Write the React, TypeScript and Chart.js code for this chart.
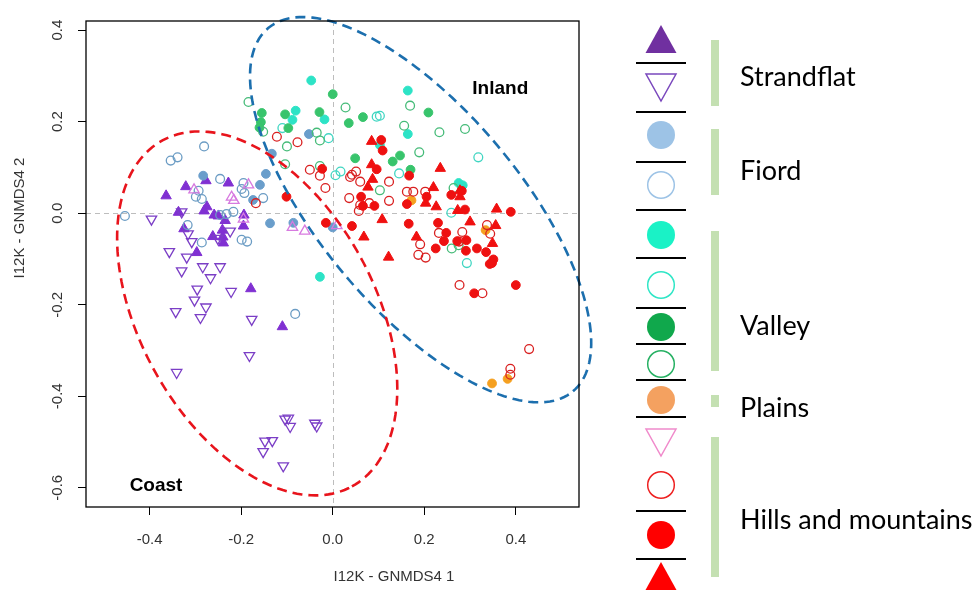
import React, { useEffect, useRef } from 'react';
import { Chart, registerables } from 'chart.js';

Chart.register(...registerables);

// ---------- axes ----------
const xTickValues = [-0.4, -0.2, 0.0, 0.2, 0.4];
const yTickValues = [-0.6, -0.4, -0.2, 0.0, 0.2, 0.4];
const xLimits = [-0.539, 0.538];
const yLimits = [-0.642, 0.42];
const xTitle = 'I12K - GNMDS4 1';
const yTitle = 'I12K - GNMDS4 2';

// ---------- data (x, y) ----------
const strandflatFilledTri = [
  [-0.277, 0.071], [-0.228, 0.066], [-0.321, 0.058], [-0.364, 0.038], [-0.275, 0.014],
  [-0.281, 0.005], [-0.259, -0.004], [-0.25, -0.006], [-0.337, 0.002], [-0.194, -0.004],
  [-0.235, -0.016], [-0.195, -0.028], [-0.325, -0.034], [-0.241, -0.037], [-0.262, -0.051],
  [-0.239, -0.065], [-0.297, -0.086], [-0.179, -0.165], [-0.11, -0.248], [-0.24, -0.052],
];
const strandflatOpenTri = [
  [-0.396, -0.013], [-0.33, 0.003], [-0.316, -0.045], [-0.308, -0.062], [-0.357, -0.084],
  [-0.319, -0.096], [-0.33, -0.126], [-0.284, -0.117], [-0.246, -0.117], [-0.267, -0.141],
  [-0.296, -0.166], [-0.222, -0.171], [-0.302, -0.19], [-0.277, -0.205], [-0.343, -0.215],
  [-0.289, -0.228], [-0.177, -0.232], [-0.182, -0.311], [-0.341, -0.348], [-0.224, -0.039],
  [-0.251, -0.055], [-0.104, -0.45], [-0.097, -0.448], [-0.093, -0.466], [-0.039, -0.459],
  [-0.035, -0.465], [-0.148, -0.498], [-0.132, -0.497], [-0.152, -0.521], [-0.108, -0.552],
];
const fiordFilled = [
  [-0.052, 0.173], [-0.133, 0.13], [-0.146, 0.086], [-0.159, 0.062], [-0.283, 0.082],
  [-0.174, 0.029], [-0.137, -0.022], [-0.086, -0.021], [0.0, -0.031],
];
const fiordOpen = [
  [-0.281, 0.146], [-0.354, 0.115], [-0.339, 0.122], [-0.293, 0.049], [-0.299, 0.036],
  [-0.286, 0.031], [-0.246, 0.075], [-0.195, 0.066], [-0.199, 0.053], [-0.193, 0.044],
  [-0.152, 0.033], [-0.217, 0.003], [-0.232, -0.002], [-0.246, -0.004], [-0.454, -0.006],
  [-0.317, -0.026], [-0.286, -0.064], [-0.199, -0.058], [-0.187, -0.062], [-0.082, -0.22],
];
const valleyCyanFilled = [
  [-0.047, 0.29], [-0.081, 0.224], [-0.088, 0.204], [-0.018, 0.205], [0.164, 0.268],
  [0.164, 0.173], [0.103, 0.149], [0.275, 0.066], [0.284, 0.061], [-0.028, -0.139],
];
const valleyCyanOpen = [
  [-0.11, 0.186], [-0.009, 0.164], [0.096, 0.211], [0.103, 0.213], [0.318, 0.122],
  [0.006, 0.083], [0.017, 0.091], [0.145, 0.087], [0.259, 0.001], [0.293, -0.109],
];
const valleyGreenFilled = [
  [0.0, 0.26], [-0.155, 0.219], [-0.104, 0.216], [-0.029, 0.221], [-0.157, 0.199],
  [-0.16, 0.187], [-0.097, 0.186], [0.035, 0.197], [0.066, 0.21], [0.209, 0.22],
  [0.049, 0.12], [0.131, 0.113], [0.147, 0.126], [0.17, 0.095],
];
const valleyGreenOpen = [
  [-0.184, 0.243], [-0.152, 0.178], [-0.035, 0.176], [-0.028, 0.159], [-0.1, 0.146],
  [-0.104, 0.107], [-0.028, 0.103], [0.028, 0.231], [0.169, 0.235], [0.156, 0.191],
  [0.233, 0.177], [0.289, 0.184], [0.189, 0.133], [0.103, 0.05], [0.264, 0.055],
  [0.26, -0.077], [0.275, -0.07],
];
const plainsFilled = [
  [0.172, 0.028], [0.334, -0.037], [0.348, -0.372], [0.382, -0.362],
];
const hillsPinkOpenTri = [
  [-0.303, 0.051], [-0.184, 0.062], [-0.221, 0.035], [-0.216, 0.028], [-0.195, -0.013],
  [-0.088, -0.031], [-0.061, -0.039], [0.009, -0.027],
];
const hillsRedOpen = [
  [-0.122, 0.167], [-0.077, 0.155], [-0.05, 0.095], [-0.028, 0.082], [-0.016, 0.055],
  [-0.168, 0.022], [0.051, 0.091], [0.038, 0.079], [0.042, 0.084], [0.06, 0.069],
  [0.123, 0.069], [0.162, 0.047], [0.176, 0.047], [0.202, 0.047], [0.036, 0.033],
  [0.08, 0.022], [0.06, 0.018], [0.057, 0.005], [0.123, 0.027], [0.232, -0.043],
  [0.283, -0.041], [0.276, -0.062], [0.337, -0.026], [0.344, -0.045], [0.191, -0.068],
  [0.187, -0.091], [0.203, -0.097], [0.277, -0.157], [0.327, -0.175], [0.429, -0.297],
  [0.388, -0.34], [0.388, -0.353],
];
const hillsRedFilled = [
  [-0.023, 0.097], [-0.101, 0.036], [-0.015, -0.021], [0.106, 0.16], [0.109, 0.137],
  [0.096, 0.096], [0.167, 0.082], [0.162, 0.02], [0.205, 0.036], [0.259, 0.04],
  [0.282, 0.049], [0.289, 0.008], [0.389, 0.003], [0.062, 0.036], [0.066, 0.016],
  [0.091, 0.016], [0.042, -0.028], [0.166, -0.023], [0.23, -0.021], [0.248, -0.043],
  [0.243, -0.061], [0.272, -0.061], [0.292, -0.059], [0.225, -0.077], [0.291, -0.082],
  [0.315, -0.077], [0.335, -0.085], [0.351, -0.101], [0.343, -0.111], [0.348, -0.109],
  [0.309, -0.175], [0.4, -0.157],
];
const hillsRedFilledTri = [
  [0.085, 0.157], [0.085, 0.106], [0.087, 0.074], [0.077, 0.057], [0.235, 0.098],
  [0.22, 0.056], [0.203, 0.022], [0.226, 0.014], [0.273, 0.006], [0.278, 0.049],
  [0.278, 0.036], [0.358, 0.009], [0.3, -0.019], [0.356, -0.027], [0.349, -0.066],
  [0.108, -0.014], [0.068, -0.052], [0.183, -0.052], [0.122, -0.096],
];

// ---------- ellipses (centre, semi-axes, rotation) ----------
const coastEllipse = { cx: -0.165, cy: -0.219, a: 0.431, b: 0.257, angleDeg: -61.3 };
const inlandEllipse = { cx: 0.192, cy: 0.0077, a: 0.518, b: 0.2186, angleDeg: -50 };

const annotations = [
  { text: 'Inland', x: 0.366, y: 0.272 },
  { text: 'Coast', x: -0.386, y: -0.596 },
];

// ---------- legend ----------
const legendSymbols = [
  { shape: 'up', filled: true, color: '#7030a0' },
  { shape: 'down', filled: false, color: '#7a48bd' },
  { shape: 'circle', filled: true, color: '#9dc3e6' },
  { shape: 'circle', filled: false, color: '#9dc3e6' },
  { shape: 'circle', filled: true, color: '#1af2c6' },
  { shape: 'circle', filled: false, color: '#2fe6c6' },
  { shape: 'circle', filled: true, color: '#10a84c' },
  { shape: 'circle', filled: false, color: '#25b062' },
  { shape: 'circle', filled: true, color: '#f4a160' },
  { shape: 'down', filled: false, color: '#f08acb' },
  { shape: 'circle', filled: false, color: '#ee2020' },
  { shape: 'circle', filled: true, color: '#ff0000' },
  { shape: 'up', filled: true, color: '#ff0000' },
];
const legendGroups = ['Strandflat', 'Fiord', 'Valley', 'Plains', 'Hills and mountains'];

function ellipsePoints(e: { cx: number; cy: number; a: number; b: number; angleDeg: number }) {
  const n = 180;
  const th = (e.angleDeg * Math.PI) / 180;
  const pts: { x: number; y: number }[] = [];
  for (let i = 0; i <= n; i++) {
    const t = (i / n) * 2 * Math.PI;
    const u = e.a * Math.cos(t);
    const v = e.b * Math.sin(t);
    pts.push({ x: e.cx + u * Math.cos(th) - v * Math.sin(th), y: e.cy + u * Math.sin(th) + v * Math.cos(th) });
  }
  return pts;
}

const toXY = (arr: number[][]) => arr.map(([x, y]) => ({ x, y }));

function openSet(data: number[][], color: string, style: string, rotation = 0, radius = 4.4) {
  return {
    type: 'scatter' as const,
    data: toXY(data),
    pointStyle: style,
    pointRotation: rotation,
    pointRadius: radius,
    pointBackgroundColor: 'rgba(0,0,0,0)',
    pointBorderColor: color,
    pointBorderWidth: 1.3,
  };
}
function filledSet(data: number[][], color: string, style: string, radius = 4.4) {
  return {
    type: 'scatter' as const,
    data: toXY(data),
    pointStyle: style,
    pointRadius: radius,
    pointBackgroundColor: color,
    pointBorderColor: color,
    pointBorderWidth: 1,
  };
}
function ellipseSet(e: any, color: string) {
  return {
    type: 'scatter' as const,
    data: ellipsePoints(e),
    showLine: true,
    borderColor: color,
    borderWidth: 2.6,
    borderDash: [10, 6],
    pointRadius: 0,
    fill: false,
    clip: false as any,
  };
}

const AXIS_FONT = '"Liberation Sans", Arial, sans-serif';

const decorPlugin = {
  id: 'decor',
  beforeDatasetsDraw(chart: any) {
    const { ctx, chartArea: ca, scales } = chart;
    const x0 = scales.x.getPixelForValue(0);
    const y0 = scales.y.getPixelForValue(0);
    ctx.save();
    ctx.strokeStyle = '#bdbdbd';
    ctx.lineWidth = 1;
    ctx.setLineDash([5, 4]);
    ctx.beginPath();
    ctx.moveTo(Math.round(x0) + 0.5, ca.top);
    ctx.lineTo(Math.round(x0) + 0.5, ca.bottom);
    ctx.moveTo(ca.left, Math.round(y0) + 0.5);
    ctx.lineTo(ca.right, Math.round(y0) + 0.5);
    ctx.stroke();
    ctx.restore();
  },
  afterDraw(chart: any) {
    const { ctx, chartArea: ca, scales } = chart;
    ctx.save();
    // box
    ctx.strokeStyle = '#000';
    ctx.lineWidth = 1.3;
    ctx.setLineDash([]);
    ctx.strokeRect(ca.left, ca.top, ca.right - ca.left, ca.bottom - ca.top);

    // y tick labels (rotated)
    ctx.fillStyle = '#333';
    ctx.font = `15px ${AXIS_FONT}`;
    ctx.textAlign = 'center';
    ctx.textBaseline = 'middle';
    yTickValues.forEach((v) => {
      const py = scales.y.getPixelForValue(v);
      ctx.save();
      ctx.translate(58, py);
      ctx.rotate(-Math.PI / 2);
      ctx.fillText(v.toFixed(1), 0, 0);
      ctx.restore();
    });
    // axis titles
    ctx.fillText(xTitle, 394, 577);
    ctx.save();
    ctx.translate(20, 218);
    ctx.rotate(-Math.PI / 2);
    ctx.fillText(yTitle, 0, 0);
    ctx.restore();

    // annotations
    ctx.fillStyle = '#000';
    ctx.font = `bold 19px ${AXIS_FONT}`;
    ctx.textAlign = 'center';
    annotations.forEach((a) => {
      ctx.fillText(a.text, scales.x.getPixelForValue(a.x), scales.y.getPixelForValue(a.y));
    });

    // legend
    const sx = 661;
    const symY = [40, 87, 135, 185, 235, 285, 327, 364, 400, 442, 485, 535, 577];
    legendSymbols.forEach((s, i) => {
      const cy = symY[i];
      ctx.beginPath();
      if (s.shape === 'circle') {
        ctx.arc(sx, cy, s.filled ? 14 : 13.3, 0, Math.PI * 2);
      } else if (s.shape === 'up') {
        ctx.moveTo(sx, cy - 15);
        ctx.lineTo(sx + 15.5, cy + 13);
        ctx.lineTo(sx - 15.5, cy + 13);
        ctx.closePath();
      } else {
        ctx.moveTo(sx - 15, cy - 13);
        ctx.lineTo(sx + 15, cy - 13);
        ctx.lineTo(sx, cy + 14);
        ctx.closePath();
      }
      if (s.filled) {
        ctx.fillStyle = s.color;
        ctx.fill();
      } else {
        ctx.strokeStyle = s.color;
        ctx.lineWidth = 1.5;
        ctx.stroke();
      }
    });
    ctx.strokeStyle = '#000';
    ctx.lineWidth = 1.8;
    [63, 112, 162, 210, 258, 308, 344, 380, 417, 511, 559].forEach((ly) => {
      ctx.beginPath();
      ctx.moveTo(636, ly);
      ctx.lineTo(686, ly);
      ctx.stroke();
    });
    const bars = [[40, 106], [129, 195], [231, 371], [395, 407], [437, 577]];
    const labelY = [77, 171, 326, 408, 520];
    ctx.fillStyle = '#c4e0b2';
    bars.forEach(([a, b]) => ctx.fillRect(711, a, 8, b - a));
    ctx.fillStyle = '#000';
    ctx.font = '27px Lato, "Open Sans", sans-serif';
    ctx.textAlign = 'left';
    ctx.textBaseline = 'middle';
    legendGroups.forEach((g, i) => ctx.fillText(g, 740, labelY[i]));
    ctx.restore();
  },
};

export default function App() {
  const ref = useRef<HTMLCanvasElement | null>(null);
  useEffect(() => {
    if (!ref.current) return;
    const chart = new Chart(ref.current, {
      type: 'scatter',
      data: {
        datasets: [
          ellipseSet(coastEllipse, '#e8141c'),
          ellipseSet(inlandEllipse, '#1c6fae'),
          filledSet(hillsRedFilledTri, '#f01010', 'triangle', 6),
          filledSet(hillsRedFilled, '#ee1111', 'circle'),
          openSet(hillsRedOpen, '#d92020', 'circle'),
          openSet(hillsPinkOpenTri, '#d77ae0', 'triangle', 0, 6),
          filledSet(plainsFilled, '#f5a020', 'circle'),
          openSet(valleyGreenOpen, '#45bb78', 'circle'),
          filledSet(valleyGreenFilled, '#38c46c', 'circle'),
          openSet(valleyCyanOpen, '#40d6c2', 'circle'),
          filledSet(valleyCyanFilled, '#2de3c6', 'circle'),
          openSet(fiordOpen, '#6b9cc4', 'circle'),
          filledSet(fiordFilled, '#6a9ecb', 'circle'),
          openSet(strandflatOpenTri, '#7b3ec6', 'triangle', 180, 6),
          filledSet(strandflatFilledTri, '#8030d2', 'triangle', 6),
        ] as any,
      },
      options: {
        responsive: false,
        animation: false,
        events: [],
        layout: { padding: { left: 0, top: 21, right: 977 - 579, bottom: 0 } },
        plugins: { legend: { display: false }, tooltip: { enabled: false } },
        scales: {
          x: {
            type: 'linear',
            min: xLimits[0],
            max: xLimits[1],
            afterBuildTicks: (s: any) => { s.ticks = xTickValues.map((v) => ({ value: v })); },
            afterFit: (s: any) => { s.height = 591 - 507; },
            grid: { drawOnChartArea: false, drawTicks: true, tickLength: 8, color: '#000', lineWidth: 1 },
            border: { display: false },
            ticks: {
              color: '#333',
              font: { family: AXIS_FONT, size: 15 },
              padding: 16,
              maxRotation: 0,
              autoSkip: false,
              callback: (v: any) => Number(v).toFixed(1),
            },
          },
          y: {
            type: 'linear',
            min: yLimits[0],
            max: yLimits[1],
            afterBuildTicks: (s: any) => { s.ticks = yTickValues.map((v) => ({ value: v })); },
            afterFit: (s: any) => { s.width = 86; },
            grid: { drawOnChartArea: false, drawTicks: true, tickLength: 8, color: '#000', lineWidth: 1 },
            border: { display: false },
            ticks: { display: false },
          },
        },
      },
      plugins: [decorPlugin],
    });
    return () => chart.destroy();
  }, []);
  return (
    <div style={{ position: 'fixed', left: 0, top: 0, width: 977, height: 591, background: '#fff' }}>
      <canvas ref={ref} width={977} height={591} style={{ width: 977, height: 591 }} />
    </div>
  );
}
